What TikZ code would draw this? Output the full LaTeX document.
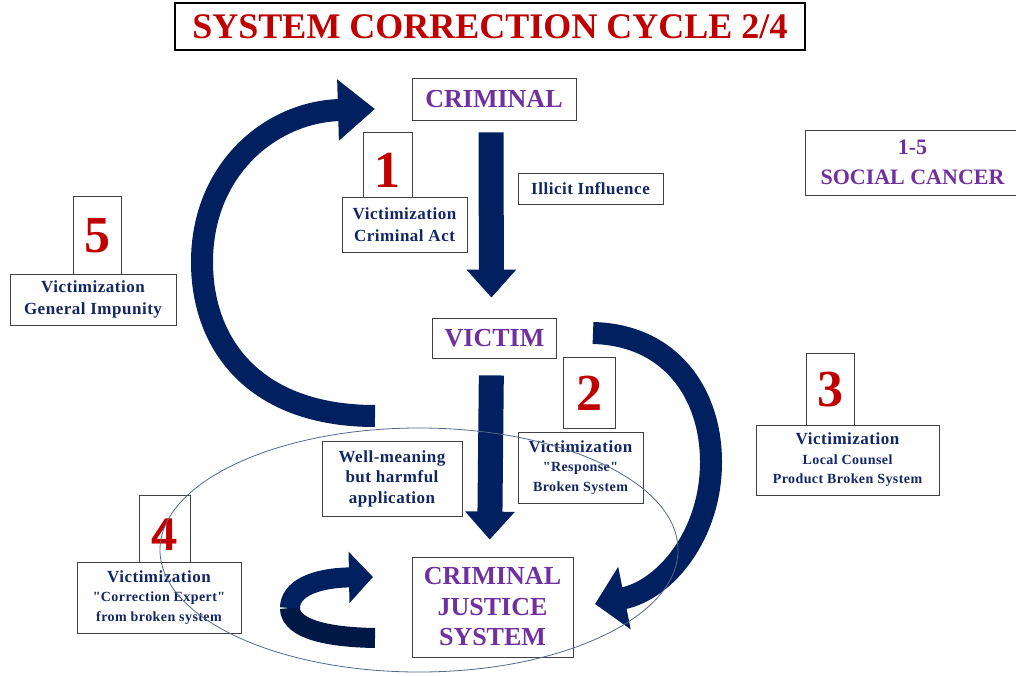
\documentclass[tikz,border=0pt]{standalone}
\usepackage{fontspec}
\setmainfont{Liberation Serif}[Ligatures=TeXOff]
\newfontfamily\numsans{Liberation Sans}
\usetikzlibrary{arrows.meta,positioning}
\definecolor{navyarr}{RGB}{0,32,96}
\definecolor{navydark}{RGB}{0,24,70}
\definecolor{navytxt}{RGB}{18,38,100}
\definecolor{purp}{RGB}{112,48,160}
\definecolor{redn}{RGB}{192,0,0}
\definecolor{rimgray}{RGB}{64,64,64}
\definecolor{ringblue}{RGB}{84,104,140}
\newcommand{\fs}[2]{\fontsize{#1}{#2}\selectfont}
\newcommand{\spaced}{\addfontfeature{LetterSpace=3}}

\begin{document}
\begin{tikzpicture}[x=1pt,y=-1pt,
  box/.style={draw=rimgray,line width=.8pt,fill=white,inner sep=0pt,align=center,text=navytxt,font=\bfseries\spaced\fs{17}{22}},
  subbox/.style={box,font=\bfseries\spaced\fs{14}{19.5}},
  keybox/.style={box,text=purp,font=\bfseries\fs{26}{30.5}},
  numbox/.style={box,text=redn,font=\bfseries\fs{52}{52},text height=35pt,text depth=0pt},
  bigarrow/.style={navyarr,line width=25pt,-{Triangle[width=48pt,length=28pt]}},
  bendarrow/.style={navyarr,line width=22pt}]
\useasboundingbox (0,0) rectangle (1016,676);
\clip (0,0) rectangle (1016,676);

% title
\node[draw=black,line width=1.2pt,fill=white,inner sep=0pt,minimum width=630pt,minimum height=47pt,
  text=redn,font=\bfseries\fs{36}{36}] (title) at (490,26.5) {SYSTEM CORRECTION CYCLE 2/4};

% main chain
\node[keybox,minimum width=164pt,minimum height=42pt] (criminal) at (494,99) {CRIMINAL};
\node[keybox,minimum width=124pt,minimum height=40pt] (victim) at (494.5,338) {VICTIM};
\node[keybox,minimum width=161pt,minimum height=100pt] (cjs) at (492.5,607) {CRIMINAL\\JUSTICE\\SYSTEM};
\node[keybox,font=\bfseries\fs{22}{30},minimum width=215pt,minimum height=65pt] (cancer) at (912.5,162.5) {1-5\\SOCIAL CANCER};

% side labels
\node[box,minimum width=145pt,minimum height=31pt] (illicit) at (590.5,188.5) {Illicit Influence};
\node[box,font=\bfseries\spaced\fs{17}{20.5},minimum width=140pt,minimum height=75pt] (harm) at (392,478.5) {Well-meaning\\but harmful\\application};

% victimization 1
\node[numbox,text height=47pt,minimum width=49pt,minimum height=65pt] (num1) at (387.5,164.5) {1};
\node[box,minimum width=125pt,minimum height=55pt] (vic1) at (404.5,224.5) {Victimization\\Criminal Act};

% victimization 2
\node[numbox,minimum width=52pt,minimum height=71pt] (num2) at (589.5,393) {2};
\node[subbox,minimum width=125pt,minimum height=71pt] (vic2) at (580.5,467.5) {{\fs{17}{22}Victimization}\\"Response"\\Broken System};

% victimization 3
\node[numbox,minimum width=48pt,minimum height=72pt] (num3) at (830,389) {3};
\node[subbox,minimum width=183pt,minimum height=70pt] (vic3) at (847.5,460) {{\fs{17}{22}Victimization}\\Local Counsel\\Product Broken System};

% victimization 4
\node[numbox,font=\numsans\bfseries\fs{46}{46},text height=43pt,minimum width=51pt,minimum height=67pt] (num4) at (164.5,528.5) {4};
\node[subbox,minimum width=164pt,minimum height=71pt] (vic4) at (159,597.5) {{\fs{17}{22}Victimization}\\"Correction Expert"\\from broken system};

% victimization 5
\node[numbox,minimum width=48pt,minimum height=78pt] (num5) at (97,235) {5};
\node[box,minimum width=166pt,minimum height=51pt] (vic5) at (93,299.5) {Victimization\\General Impunity};

% straight arrows
\draw[bigarrow,shorten <=12pt,shorten >=20pt] ([xshift=-3pt]criminal.south) -- ([xshift=-3pt]victim.north);
\draw[bigarrow,shorten <=17pt,shorten >=17pt] ([xshift=-3pt]victim.south) -- ([xshift=-3pt]cjs.north);

% bent arrows
\coordinate (lefttail) at (375,416);
\coordinate (lefttip) at (375,109);
\draw[bendarrow,-{Triangle[width=59pt,length=37pt]}] (lefttail) .. controls (255,416) and (202,345) .. (202,262)
  .. controls (202,170) and (270,112) .. (lefttip);
\coordinate (righttail) at (593,333);
\coordinate (righttip) at (595,604);
\draw[bendarrow,-{Triangle[width=62pt,length=30pt]}] (righttail) .. controls (672,335) and (711,395) .. (711,462)
  .. controls (711,535) and (665,590) .. (righttip);
\coordinate (looptail) at (375,638);
\coordinate (loopturn) at (290,608);
\coordinate (looptip) at (373,577);
\draw[navydark,line width=20pt] (looptail) .. controls (315,637) and (290,625) .. (loopturn);
\draw[navyarr,line width=20pt,-{Triangle[width=50pt,length=24pt]}] (loopturn) .. controls (290,590) and (312,578) .. (looptip);

% ring
\draw[ringblue,line width=.8pt] (419,550) ellipse [x radius=259pt,y radius=122pt];
\end{tikzpicture}
\end{document}
